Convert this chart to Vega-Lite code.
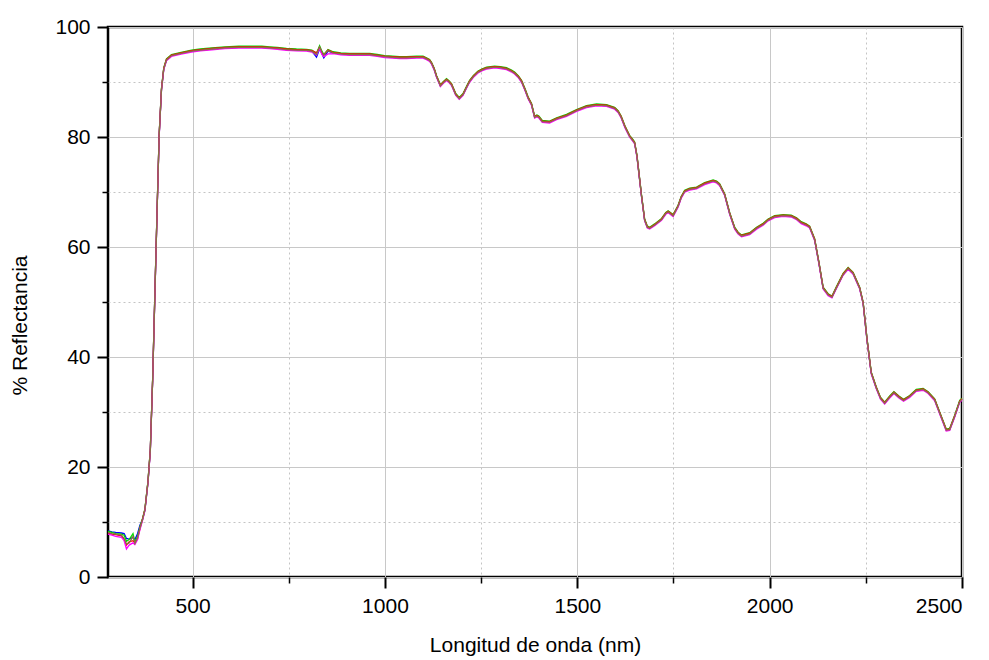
{
"$schema": "https://vega.github.io/schema/vega-lite/v6.json",
"width": 854, "height": 550,
"autosize": {"type": "none"},
"padding": {"left": 108, "top": 27, "right": 27, "bottom": 83},
"config": {
 "view": {"stroke": "#000000", "strokeWidth": 2.5},
 "font": "Liberation Sans",
 "axis": {"labelFont": "Liberation Sans", "titleFont": "Liberation Sans", "labelColor": "#000000", "titleColor": "#000000", "tickColor": "#000000", "domain": false}
},
"datasets": {
 "frame": [{"nm": 280, "v": 0}, {"nm": 2500, "v": 100}],
 "spec": [
  {"nm":280,"b":8.4,"g":8.3,"r":8.0,"m":7.8,"o":8.1},
  {"nm":290,"b":8.2,"g":8.1,"r":7.8,"m":7.6,"o":7.9},
  {"nm":300,"b":8.1,"g":7.9,"r":7.7,"m":7.4,"o":7.8},
  {"nm":315,"b":8.0,"g":7.8,"r":7.5,"m":7.2,"o":7.6},
  {"nm":322,"b":7.9,"g":7.6,"r":6.8,"m":6.6,"o":7.0},
  {"nm":328,"b":7.0,"g":6.5,"r":5.8,"m":5.1,"o":6.0},
  {"nm":335,"b":6.9,"g":6.8,"r":6.4,"m":5.8,"o":6.2},
  {"nm":345,"b":7.2,"g":7.9,"r":6.6,"m":6.2,"o":7.4},
  {"nm":350,"b":6.8,"g":6.4,"r":6.2,"m":5.9,"o":6.1},
  {"nm":357,"b":7.9,"g":7.4,"r":7.0,"m":6.8,"o":7.2},
  {"nm":363,"b":9.4,"g":9.1,"r":8.8,"m":8.6,"o":8.9},
  {"nm":370,"b":10.5,"g":10.7,"r":10.6,"m":10.35,"o":10.5},
  {"nm":376,"b":12.2,"g":12.4,"r":12.3,"m":12.05,"o":12.2},
  {"nm":384,"b":17.3,"g":17.5,"r":17.4,"m":17.15,"o":17.3},
  {"nm":390,"b":23.0,"g":23.2,"r":23.1,"m":22.85,"o":23.0},
  {"nm":396,"b":35.7,"g":35.9,"r":35.8,"m":35.55,"o":35.7},
  {"nm":402,"b":51.7,"g":51.9,"r":51.8,"m":51.55,"o":51.7},
  {"nm":408,"b":67.6,"g":67.8,"r":67.7,"m":67.45,"o":67.6},
  {"nm":413,"b":80.3,"g":80.5,"r":80.4,"m":80.15,"o":80.3},
  {"nm":419,"b":88.6,"g":88.8,"r":88.7,"m":88.45,"o":88.6},
  {"nm":425,"b":92.4,"g":92.6,"r":92.5,"m":92.25,"o":92.4},
  {"nm":432,"b":94.0,"g":94.2,"r":94.1,"m":93.85,"o":94.0},
  {"nm":445,"b":94.8,"g":95.0,"r":94.9,"m":94.65,"o":94.8},
  {"nm":470,"b":95.2,"g":95.4,"r":95.3,"m":95.05,"o":95.2},
  {"nm":497,"b":95.6,"g":95.8,"r":95.7,"m":95.45,"o":95.6},
  {"nm":520,"b":95.8,"g":96.0,"r":95.9,"m":95.65,"o":95.8},
  {"nm":550,"b":96.0,"g":96.2,"r":96.1,"m":95.85,"o":96.0},
  {"nm":584,"b":96.2,"g":96.4,"r":96.3,"m":96.05,"o":96.2},
  {"nm":620,"b":96.3,"g":96.5,"r":96.4,"m":96.15,"o":96.3},
  {"nm":648,"b":96.3,"g":96.5,"r":96.4,"m":96.15,"o":96.3},
  {"nm":680,"b":96.3,"g":96.5,"r":96.4,"m":96.15,"o":96.3},
  {"nm":700,"b":96.2,"g":96.4,"r":96.3,"m":96.05,"o":96.2},
  {"nm":720,"b":96.1,"g":96.3,"r":96.2,"m":95.95,"o":96.1},
  {"nm":744,"b":95.9,"g":96.1,"r":96.0,"m":95.75,"o":95.9},
  {"nm":770,"b":95.8,"g":96.0,"r":95.9,"m":95.65,"o":95.8},
  {"nm":796,"b":95.75,"g":95.95,"r":95.85,"m":95.6,"o":95.75},
  {"nm":810,"b":95.6,"g":95.8,"r":95.7,"m":95.45,"o":95.6},
  {"nm":822,"b":94.5,"g":95.2,"r":95.3,"m":94.9,"o":95.0},
  {"nm":830,"b":96.0,"g":96.6,"r":96.3,"m":96.1,"o":96.4},
  {"nm":836,"b":95.2,"g":95.6,"r":95.3,"m":95.0,"o":95.5},
  {"nm":841,"b":94.4,"g":95.0,"r":94.9,"m":94.6,"o":94.9},
  {"nm":852,"b":95.6,"g":95.9,"r":95.8,"m":95.1,"o":95.7},
  {"nm":865,"b":95.3,"g":95.5,"r":95.4,"m":95.15,"o":95.3},
  {"nm":885,"b":95.1,"g":95.3,"r":95.2,"m":94.95,"o":95.1},
  {"nm":908,"b":95.0,"g":95.2,"r":95.1,"m":94.85,"o":95.0},
  {"nm":935,"b":95.0,"g":95.2,"r":95.1,"m":94.85,"o":95.0},
  {"nm":960,"b":95.0,"g":95.2,"r":95.1,"m":94.85,"o":95.0},
  {"nm":980,"b":94.8,"g":95.0,"r":94.9,"m":94.65,"o":94.8},
  {"nm":999,"b":94.6,"g":94.8,"r":94.7,"m":94.45,"o":94.6},
  {"nm":1020,"b":94.5,"g":94.7,"r":94.6,"m":94.35,"o":94.5},
  {"nm":1038,"b":94.4,"g":94.6,"r":94.5,"m":94.25,"o":94.4},
  {"nm":1056,"b":94.4,"g":94.6,"r":94.5,"m":94.25,"o":94.4},
  {"nm":1082,"b":94.5,"g":94.7,"r":94.6,"m":94.35,"o":94.5},
  {"nm":1099,"b":94.5,"g":94.7,"r":94.6,"m":94.35,"o":94.5},
  {"nm":1108,"b":94.2,"g":94.4,"r":94.3,"m":94.05,"o":94.2},
  {"nm":1116,"b":93.9,"g":94.1,"r":94.0,"m":93.75,"o":93.9},
  {"nm":1121,"b":93.4,"g":93.6,"r":93.5,"m":93.25,"o":93.4},
  {"nm":1128,"b":92.3,"g":92.5,"r":92.4,"m":92.15,"o":92.3},
  {"nm":1134,"b":91.0,"g":91.2,"r":91.1,"m":90.85,"o":91.0},
  {"nm":1144,"b":89.3,"g":89.5,"r":89.4,"m":89.15,"o":89.3},
  {"nm":1152,"b":89.9,"g":90.1,"r":90.0,"m":89.75,"o":89.9},
  {"nm":1160,"b":90.4,"g":90.6,"r":90.5,"m":90.25,"o":90.4},
  {"nm":1167,"b":90.0,"g":90.2,"r":90.1,"m":89.85,"o":90.0},
  {"nm":1173,"b":89.5,"g":89.7,"r":89.6,"m":89.35,"o":89.5},
  {"nm":1184,"b":87.7,"g":87.9,"r":87.8,"m":87.55,"o":87.7},
  {"nm":1193,"b":87.0,"g":87.2,"r":87.1,"m":86.85,"o":87.0},
  {"nm":1203,"b":87.7,"g":87.9,"r":87.8,"m":87.55,"o":87.7},
  {"nm":1212,"b":89.0,"g":89.2,"r":89.1,"m":88.85,"o":89.0},
  {"nm":1220,"b":90.1,"g":90.3,"r":90.2,"m":89.95,"o":90.1},
  {"nm":1230,"b":91.0,"g":91.2,"r":91.1,"m":90.85,"o":91.0},
  {"nm":1242,"b":91.8,"g":92.0,"r":91.9,"m":91.65,"o":91.8},
  {"nm":1253,"b":92.2,"g":92.4,"r":92.3,"m":92.05,"o":92.2},
  {"nm":1264,"b":92.5,"g":92.7,"r":92.6,"m":92.35,"o":92.5},
  {"nm":1285,"b":92.7,"g":92.9,"r":92.8,"m":92.55,"o":92.7},
  {"nm":1300,"b":92.6,"g":92.8,"r":92.7,"m":92.45,"o":92.6},
  {"nm":1316,"b":92.4,"g":92.6,"r":92.5,"m":92.25,"o":92.4},
  {"nm":1328,"b":92.0,"g":92.2,"r":92.1,"m":91.85,"o":92.0},
  {"nm":1337,"b":91.6,"g":91.8,"r":91.7,"m":91.45,"o":91.6},
  {"nm":1347,"b":90.9,"g":91.1,"r":91.0,"m":90.75,"o":90.9},
  {"nm":1355,"b":90.1,"g":90.3,"r":90.2,"m":89.95,"o":90.1},
  {"nm":1364,"b":88.6,"g":88.8,"r":88.7,"m":88.45,"o":88.6},
  {"nm":1372,"b":87.1,"g":87.3,"r":87.2,"m":86.95,"o":87.1},
  {"nm":1381,"b":85.9,"g":86.1,"r":86.0,"m":85.75,"o":85.9},
  {"nm":1389,"b":83.6,"g":83.8,"r":83.7,"m":83.45,"o":83.6},
  {"nm":1395,"b":83.8,"g":84.0,"r":83.9,"m":83.65,"o":83.8},
  {"nm":1400,"b":83.6,"g":83.8,"r":83.7,"m":83.45,"o":83.6},
  {"nm":1409,"b":82.8,"g":83.0,"r":82.9,"m":82.65,"o":82.8},
  {"nm":1428,"b":82.7,"g":82.9,"r":82.8,"m":82.55,"o":82.7},
  {"nm":1446,"b":83.3,"g":83.5,"r":83.4,"m":83.15,"o":83.3},
  {"nm":1472,"b":83.9,"g":84.1,"r":84.0,"m":83.75,"o":83.9},
  {"nm":1498,"b":84.8,"g":85.0,"r":84.9,"m":84.65,"o":84.8},
  {"nm":1524,"b":85.5,"g":85.7,"r":85.6,"m":85.35,"o":85.5},
  {"nm":1550,"b":85.8,"g":86.0,"r":85.9,"m":85.65,"o":85.8},
  {"nm":1576,"b":85.7,"g":85.9,"r":85.8,"m":85.55,"o":85.7},
  {"nm":1597,"b":85.2,"g":85.4,"r":85.3,"m":85.05,"o":85.2},
  {"nm":1606,"b":84.6,"g":84.8,"r":84.7,"m":84.45,"o":84.6},
  {"nm":1614,"b":83.6,"g":83.8,"r":83.7,"m":83.45,"o":83.6},
  {"nm":1624,"b":81.8,"g":82.0,"r":81.9,"m":81.65,"o":81.8},
  {"nm":1636,"b":80.1,"g":80.3,"r":80.2,"m":79.95,"o":80.1},
  {"nm":1645,"b":79.3,"g":79.5,"r":79.4,"m":79.15,"o":79.3},
  {"nm":1649,"b":78.9,"g":79.1,"r":79.0,"m":78.75,"o":78.9},
  {"nm":1655,"b":76.5,"g":76.7,"r":76.6,"m":76.35,"o":76.5},
  {"nm":1658,"b":74.7,"g":74.9,"r":74.8,"m":74.55,"o":74.7},
  {"nm":1667,"b":69.2,"g":69.4,"r":69.3,"m":69.05,"o":69.2},
  {"nm":1675,"b":64.9,"g":65.1,"r":65.0,"m":64.75,"o":64.9},
  {"nm":1682,"b":63.6,"g":63.8,"r":63.7,"m":63.45,"o":63.6},
  {"nm":1688,"b":63.4,"g":63.6,"r":63.5,"m":63.25,"o":63.4},
  {"nm":1701,"b":64.0,"g":64.2,"r":64.1,"m":63.85,"o":64.0},
  {"nm":1719,"b":65.0,"g":65.2,"r":65.1,"m":64.85,"o":65.0},
  {"nm":1730,"b":66.1,"g":66.3,"r":66.2,"m":65.95,"o":66.1},
  {"nm":1736,"b":66.4,"g":66.6,"r":66.5,"m":66.25,"o":66.4},
  {"nm":1749,"b":65.7,"g":65.9,"r":65.8,"m":65.55,"o":65.7},
  {"nm":1762,"b":67.4,"g":67.6,"r":67.5,"m":67.25,"o":67.4},
  {"nm":1770,"b":69.0,"g":69.2,"r":69.1,"m":68.85,"o":69.0},
  {"nm":1779,"b":70.1,"g":70.3,"r":70.2,"m":69.95,"o":70.1},
  {"nm":1792,"b":70.5,"g":70.7,"r":70.6,"m":70.35,"o":70.5},
  {"nm":1810,"b":70.7,"g":70.9,"r":70.8,"m":70.55,"o":70.7},
  {"nm":1831,"b":71.5,"g":71.7,"r":71.6,"m":71.35,"o":71.5},
  {"nm":1853,"b":72.0,"g":72.2,"r":72.1,"m":71.85,"o":72.0},
  {"nm":1862,"b":71.8,"g":72.0,"r":71.9,"m":71.65,"o":71.8},
  {"nm":1870,"b":71.3,"g":71.5,"r":71.4,"m":71.15,"o":71.3},
  {"nm":1883,"b":69.5,"g":69.7,"r":69.6,"m":69.35,"o":69.5},
  {"nm":1896,"b":66.1,"g":66.3,"r":66.2,"m":65.95,"o":66.1},
  {"nm":1909,"b":63.4,"g":63.6,"r":63.5,"m":63.25,"o":63.4},
  {"nm":1918,"b":62.5,"g":62.7,"r":62.6,"m":62.35,"o":62.5},
  {"nm":1927,"b":62.0,"g":62.2,"r":62.1,"m":61.85,"o":62.0},
  {"nm":1948,"b":62.4,"g":62.6,"r":62.5,"m":62.25,"o":62.4},
  {"nm":1966,"b":63.4,"g":63.6,"r":63.5,"m":63.25,"o":63.4},
  {"nm":1983,"b":64.1,"g":64.3,"r":64.2,"m":63.95,"o":64.1},
  {"nm":1996,"b":64.9,"g":65.1,"r":65.0,"m":64.75,"o":64.9},
  {"nm":2013,"b":65.5,"g":65.7,"r":65.6,"m":65.35,"o":65.5},
  {"nm":2035,"b":65.7,"g":65.9,"r":65.8,"m":65.55,"o":65.7},
  {"nm":2056,"b":65.6,"g":65.8,"r":65.7,"m":65.45,"o":65.6},
  {"nm":2070,"b":65.1,"g":65.3,"r":65.2,"m":64.95,"o":65.1},
  {"nm":2082,"b":64.4,"g":64.6,"r":64.5,"m":64.25,"o":64.4},
  {"nm":2095,"b":64.0,"g":64.2,"r":64.1,"m":63.85,"o":64.0},
  {"nm":2104,"b":63.6,"g":63.8,"r":63.7,"m":63.45,"o":63.6},
  {"nm":2117,"b":61.3,"g":61.5,"r":61.4,"m":61.15,"o":61.3},
  {"nm":2128,"b":57.1,"g":57.3,"r":57.2,"m":56.95,"o":57.1},
  {"nm":2139,"b":52.5,"g":52.7,"r":52.6,"m":52.35,"o":52.5},
  {"nm":2152,"b":51.3,"g":51.5,"r":51.4,"m":51.15,"o":51.3},
  {"nm":2162,"b":50.9,"g":51.1,"r":51.0,"m":50.75,"o":50.9},
  {"nm":2173,"b":52.5,"g":52.7,"r":52.6,"m":52.35,"o":52.5},
  {"nm":2191,"b":55.0,"g":55.2,"r":55.1,"m":54.85,"o":55.0},
  {"nm":2204,"b":56.1,"g":56.3,"r":56.2,"m":55.95,"o":56.1},
  {"nm":2217,"b":55.2,"g":55.4,"r":55.3,"m":55.05,"o":55.2},
  {"nm":2234,"b":52.5,"g":52.7,"r":52.6,"m":52.35,"o":52.5},
  {"nm":2243,"b":49.8,"g":50.0,"r":49.9,"m":49.65,"o":49.8},
  {"nm":2253,"b":43.2,"g":43.4,"r":43.3,"m":43.05,"o":43.2},
  {"nm":2264,"b":37.1,"g":37.3,"r":37.2,"m":36.95,"o":37.1},
  {"nm":2277,"b":34.4,"g":34.6,"r":34.5,"m":34.25,"o":34.4},
  {"nm":2288,"b":32.5,"g":32.7,"r":32.6,"m":32.35,"o":32.5},
  {"nm":2299,"b":31.6,"g":31.8,"r":31.7,"m":31.45,"o":31.6},
  {"nm":2312,"b":32.7,"g":32.9,"r":32.8,"m":32.55,"o":32.7},
  {"nm":2323,"b":33.5,"g":33.7,"r":33.6,"m":33.35,"o":33.5},
  {"nm":2336,"b":32.7,"g":32.9,"r":32.8,"m":32.55,"o":32.7},
  {"nm":2348,"b":32.1,"g":32.3,"r":32.2,"m":31.95,"o":32.1},
  {"nm":2364,"b":32.8,"g":33.0,"r":32.9,"m":32.65,"o":32.8},
  {"nm":2381,"b":33.9,"g":34.1,"r":34.0,"m":33.75,"o":33.9},
  {"nm":2399,"b":34.1,"g":34.3,"r":34.2,"m":33.95,"o":34.1},
  {"nm":2412,"b":33.5,"g":33.7,"r":33.6,"m":33.35,"o":33.5},
  {"nm":2429,"b":32.2,"g":32.4,"r":32.3,"m":32.05,"o":32.2},
  {"nm":2442,"b":29.8,"g":30.0,"r":29.9,"m":29.65,"o":29.8},
  {"nm":2459,"b":26.7,"g":26.9,"r":26.8,"m":26.55,"o":26.7},
  {"nm":2468,"b":26.8,"g":27.0,"r":26.9,"m":26.65,"o":26.8},
  {"nm":2481,"b":29.2,"g":29.4,"r":29.3,"m":29.05,"o":29.2},
  {"nm":2494,"b":31.9,"g":32.1,"r":32.0,"m":31.75,"o":31.9},
  {"nm":2500,"b":32.3,"g":32.5,"r":32.4,"m":32.15,"o":32.3}
 ]
},
"layer": [
 {
  "data": {"name": "frame"},
  "mark": {"type": "point", "opacity": 0},
  "encoding": {
   "x": {"field": "nm", "type": "quantitative", "scale": {"domain": [280, 2500], "nice": false, "zero": false},
    "axis": {"orient": "bottom", "values": [750, 1250, 1750, 2250], "grid": true, "gridColor": "#c4c4c4", "gridDash": [2, 3], "gridWidth": 1, "tickSize": 6, "tickWidth": 1.5, "labels": false, "title": null}},
   "y": {"field": "v", "type": "quantitative", "scale": {"domain": [0, 100], "nice": false, "zero": false},
    "axis": {"orient": "left", "values": [10, 30, 50, 70, 90], "grid": true, "gridColor": "#c4c4c4", "gridDash": [2, 3], "gridWidth": 1, "tickSize": 6, "tickWidth": 1.5, "labels": false, "title": null}}
  }
 },
 {
  "data": {"name": "spec"},
  "transform": [{"fold": ["b", "g", "r", "m", "o"], "as": ["s", "v"]}],
  "mark": {"type": "line", "strokeWidth": 1.3},
  "encoding": {
   "x": {"field": "nm", "type": "quantitative", "scale": {"domain": [280, 2500], "nice": false, "zero": false},
    "axis": {"orient": "bottom", "values": [500, 1000, 1500, 2000, 2500], "format": "d", "grid": true, "gridColor": "#c8c8c8", "gridWidth": 1, "tickSize": 11, "tickWidth": 2, "labelFontSize": 21, "labelPadding": 7, "title": "Longitud de onda (nm)", "titleFontSize": 21, "titleFontWeight": "normal", "titlePadding": 18}},
   "y": {"field": "v", "type": "quantitative", "scale": {"domain": [0, 100], "nice": false, "zero": false},
    "axis": {"orient": "left", "values": [0, 20, 40, 60, 80, 100], "format": "d", "grid": true, "gridColor": "#c8c8c8", "gridWidth": 1, "tickSize": 11, "tickWidth": 2, "labelFontSize": 21, "labelPadding": 7, "title": "% Reflectancia", "titleFontSize": 21, "titleFontWeight": "normal", "titlePadding": 24, "titleY": 298}},
   "color": {"field": "s", "type": "nominal", "scale": {"domain": ["b", "g", "r", "m", "o"], "range": ["#0000ff", "#00dd00", "#ff0000", "#ff00ff", "#8a7044"]}, "legend": null}
  }
 }
],
"resolve": {"axis": {"x": "independent", "y": "independent"}}
}
